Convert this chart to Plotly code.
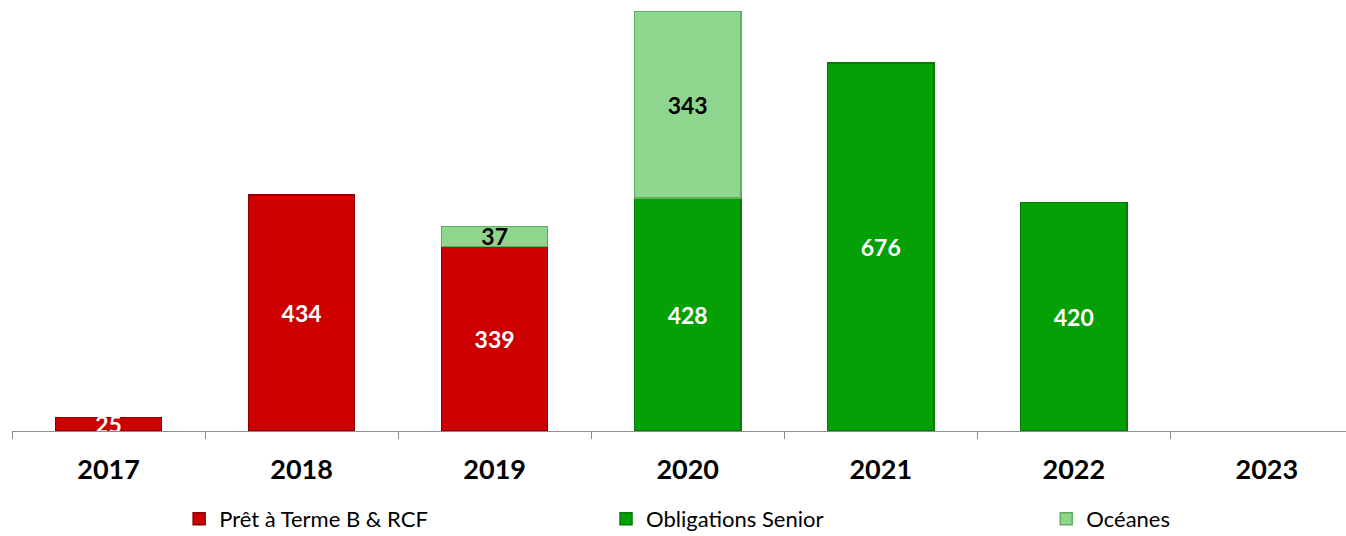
import plotly.graph_objects as go

years = ["2017", "2018", "2019", "2020", "2021", "2022", "2023"]
pret = [25, 434, 339, None, None, None, None]
oblig = [None, None, None, 428, 676, 420, None]
oceanes = [None, None, 37, 343, None, None, None]

names = ["Prêt à Terme B & RCF", "Obligations Senior", "Océanes"]
fills = ["#CC0000", "#05A005", "#8ED68E"]
edges = ["#8E0000", "#067A06", "#5FAF5F"]
text_colors = ["white", "white", "black"]
legend_ids = ["legend", "legend2", "legend3"]
legend_x = [0.1253, 0.4453, 0.7753]

fig = go.Figure()
for vals, name, fc, ec, tc, lg in zip([pret, oblig, oceanes], names, fills, edges, text_colors, legend_ids):
    fig.add_trace(go.Bar(
        x=years, y=vals, name=name, legend=lg,
        marker=dict(color=fc, line=dict(color=ec, width=1.5)),
        text=[("" if v is None else str(v)) for v in vals],
        textposition="inside", insidetextanchor="middle", textangle=0,
        constraintext="none", cliponaxis=False,
        textfont=dict(family="Lato, Carlito, sans-serif", size=23, color=tc, weight="bold"),
        width=0.55,
    ))

legend_common = dict(orientation="h", xanchor="left", yref="container", y=0.032,
                     yanchor="middle", font=dict(size=22, color="black"),
                     itemwidth=30, bgcolor="rgba(0,0,0,0)")
layout_legends = {}
for lg, lx in zip(legend_ids, legend_x):
    layout_legends[lg] = dict(legend_common, x=lx)

fig.update_layout(
    barmode="stack",
    width=1346, height=536,
    margin=dict(l=12, r=0, t=0, b=105, autoexpand=False),
    plot_bgcolor="white", paper_bgcolor="white",
    font=dict(family="Lato, Carlito, sans-serif"),
    showlegend=True,
    xaxis=dict(range=[-0.5, 6.41], showline=True, linecolor="#8C8C8C", linewidth=1,
               ticks="outside", tickson="boundaries", ticklen=7, tickcolor="#8C8C8C",
               ticklabelstandoff=15, automargin=False,
               tickfont=dict(size=27, color="black", weight="bold"), showgrid=False),
    yaxis=dict(range=[0, 792], visible=False, showgrid=False, automargin=False),
    **layout_legends,
)
fig.write_html("out.html", config={"displayModeBar": False},
               post_script="document.body.style.margin='0';")
